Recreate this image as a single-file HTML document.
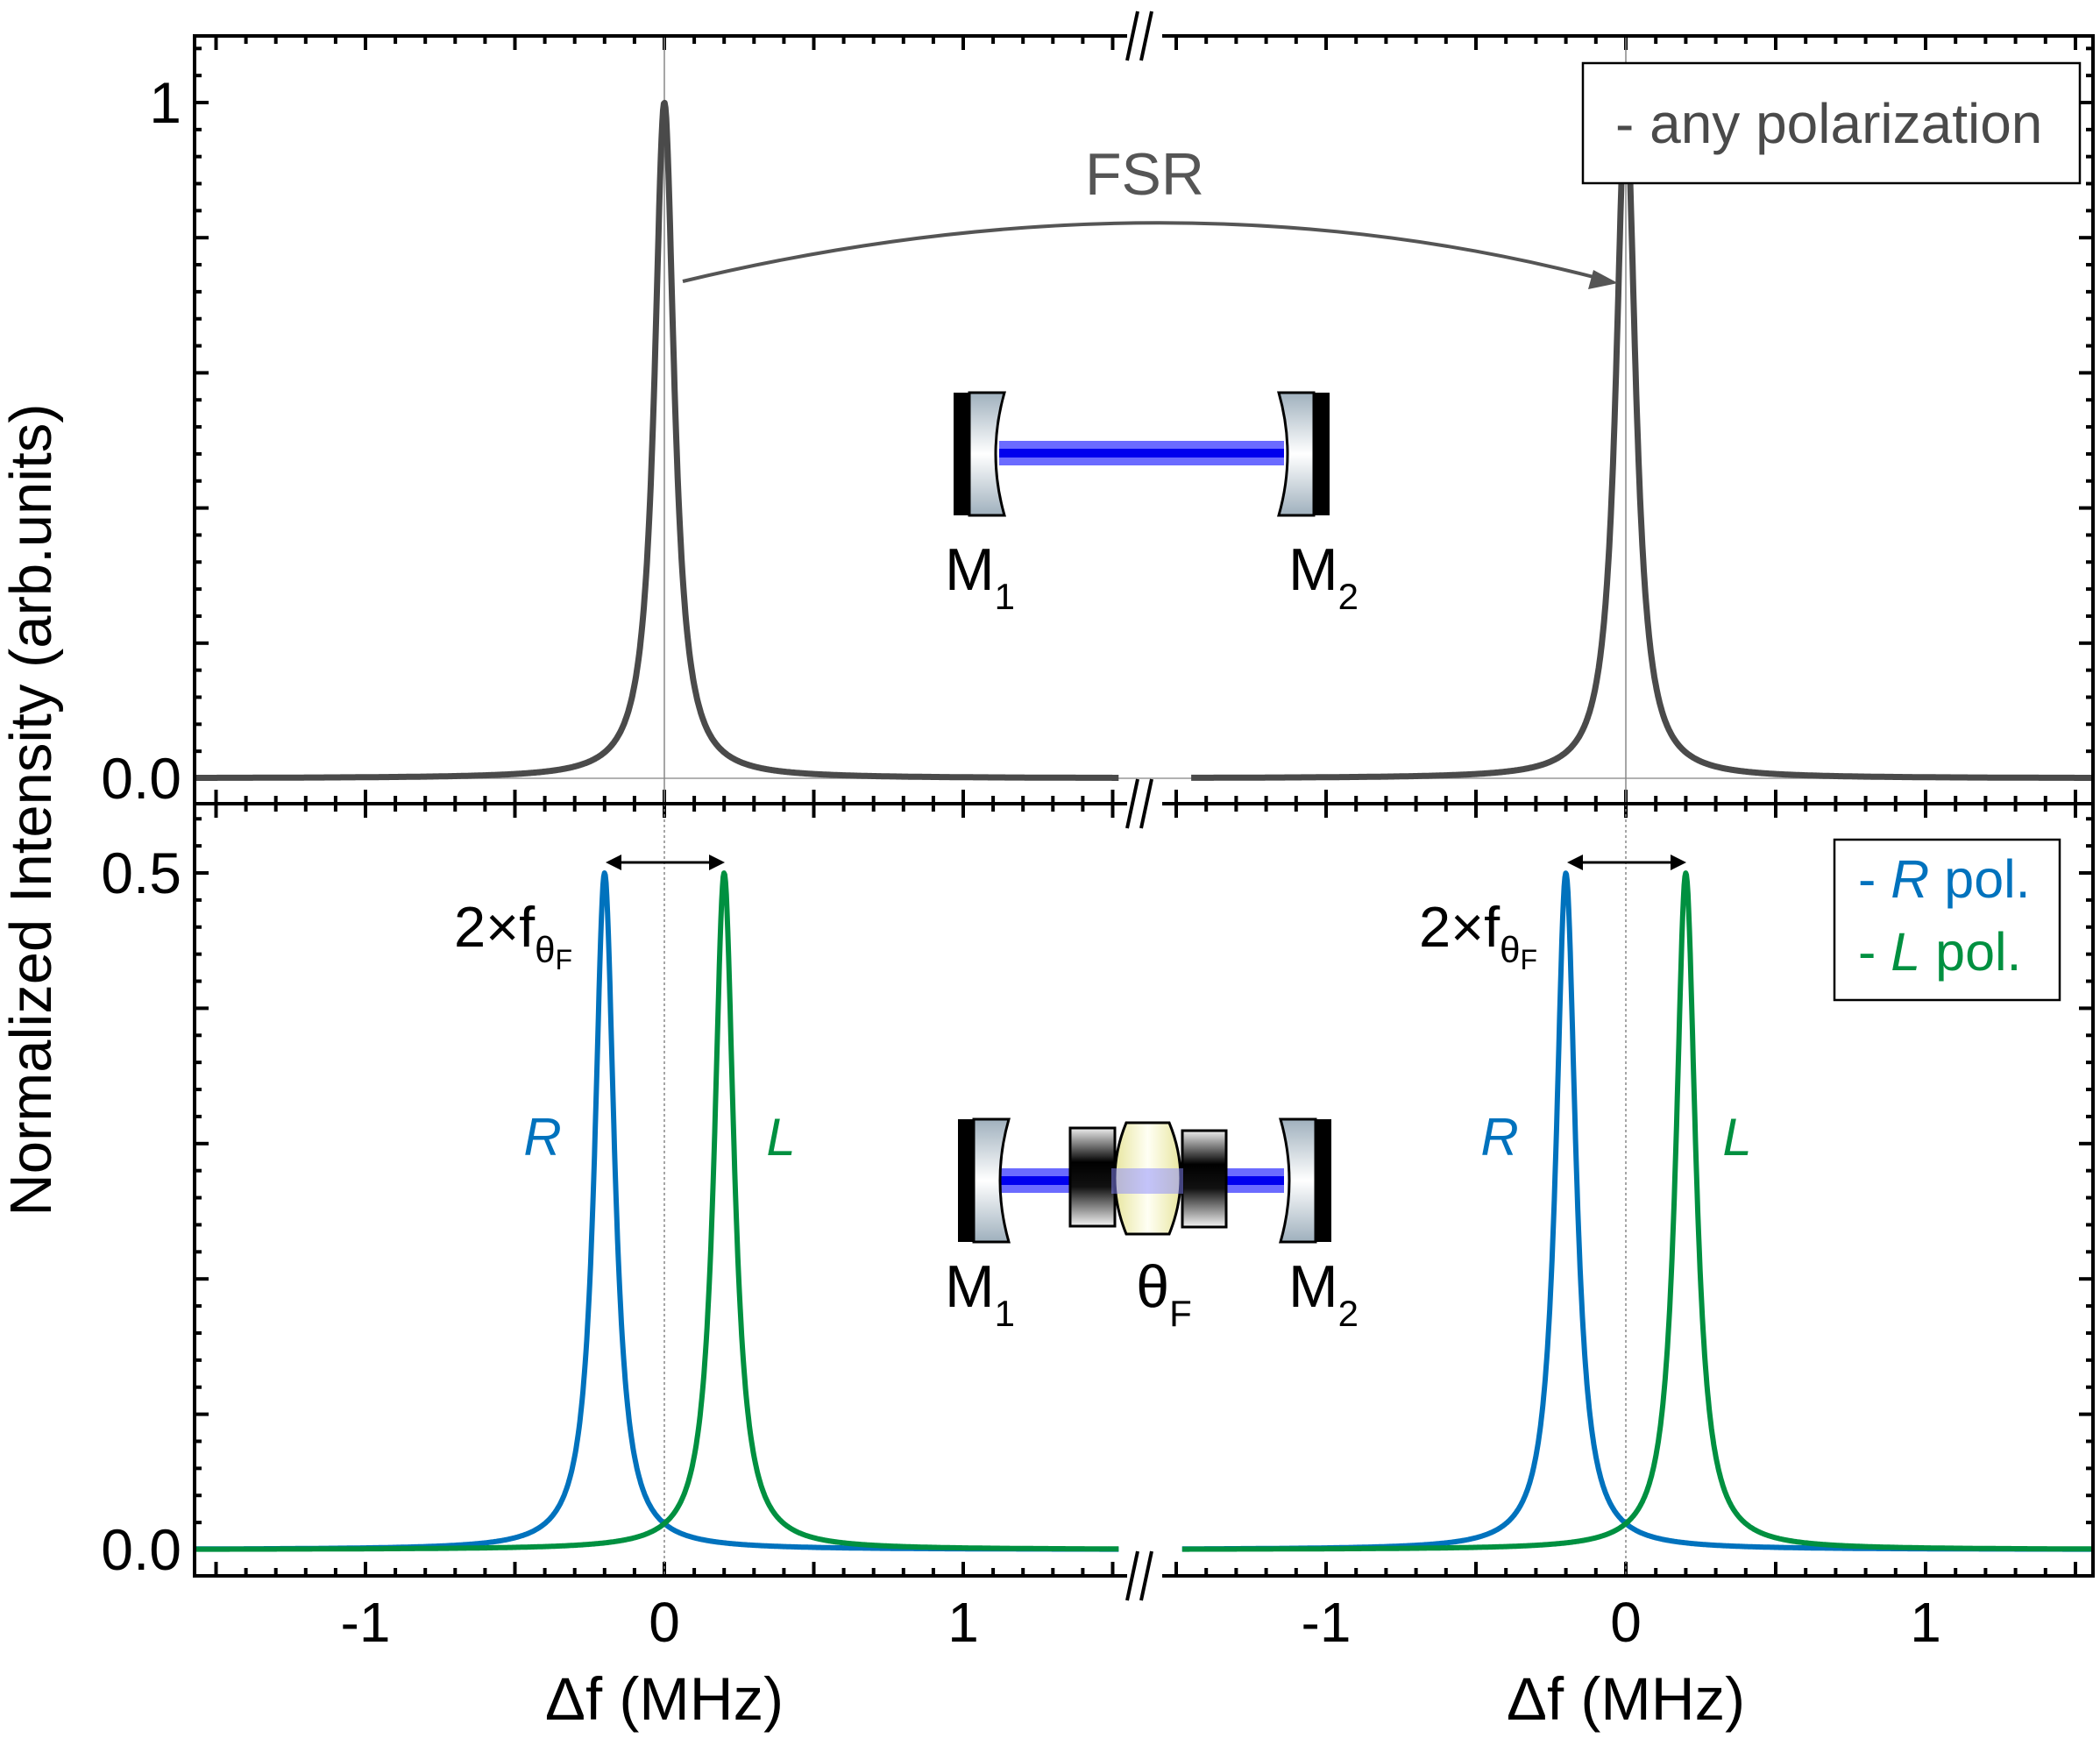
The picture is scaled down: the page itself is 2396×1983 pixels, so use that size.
<!DOCTYPE html>
<html><head><meta charset="utf-8">
<style>
html,body{margin:0;padding:0;background:#fff;}
svg{display:block;font-family:"Liberation Sans",sans-serif;}
</style></head>
<body>
<svg id="chart" width="2396" height="1983" viewBox="0 0 2396 1983" xmlns="http://www.w3.org/2000/svg">
<defs>
<linearGradient id="mirG" x1="0" y1="0" x2="0" y2="1">
<stop offset="0" stop-color="#9fb0bd"/><stop offset="0.5" stop-color="#ffffff"/><stop offset="1" stop-color="#9fb0bd"/></linearGradient>
<linearGradient id="blkG" x1="0" y1="0" x2="0" y2="1">
<stop offset="0" stop-color="#eeeeee"/><stop offset="0.35" stop-color="#000"/><stop offset="0.6" stop-color="#111"/><stop offset="1" stop-color="#f4f4f4"/></linearGradient>
<linearGradient id="lensG" x1="0" y1="0" x2="1" y2="0">
<stop offset="0" stop-color="#e8e6a0"/><stop offset="0.5" stop-color="#fffff4"/><stop offset="1" stop-color="#e8e6a0"/></linearGradient>
</defs>
<g id="plot"></g>
</svg>
<script>
// ---- data ----
const topPeakCenters = [0];
const topPeakAmps = [1.0];
const botRCenters = [-0.2];
const botLCenters = [0.2];
const botAmps = [0.5];
const lineHWHM = [0.04];
const xTickLabels = ["-1","0","1"];
const xTickValues = [-1,0,1];
const topYTickLabels = ["0.0","1"];
const topYTickValues = [0,1];
const botYTickLabels = ["0.0","0.5"];
const botYTickValues = [0,0.5];

const NS="http://www.w3.org/2000/svg";
const root=document.getElementById('plot');
function el(tag,attrs,parent){const e=document.createElementNS(NS,tag);for(const k in attrs)e.setAttribute(k,attrs[k]);(parent||root).appendChild(e);return e;}

const L=222,R=2388,T=41,M=917,B=1798,BRK=1306;
const panels=[{x0:758,s:341,xmin:-1.575,xmax:1.52,cL:L,cR:1276},{x0:1855,s:342,xmin:-1.45,xmax:1.56,cL:1361,cR:R}];
const botPanels=[{x0:758,s:341,xmin:-1.575,xmax:1.52},{x0:1855,s:342,xmin:-1.48,xmax:1.56}];
const yTop=v=>888-v*771;
const yBot=v=>1768-v*1544;
function lor(x,c,a,g){return a/(1+((x-c)/g)**2);}

function tickX(y,dir){
  panels.forEach(p=>{
    for(let i=-15;i<=15;i++){const v=i/10;const x=p.x0+v*p.s;if(x<L+3||x>R-3)continue;if(Math.abs(x-BRK)<25)continue;
      const len=(i%5===0)?16:9;
      const t=el('line',{x1:x,x2:x,y1:y,y2:y+dir*len,stroke:'#000','stroke-width':4});
      }
  });
}
tickX(T,1);tickX(B,-1);tickX(M,-1);tickX(M,1);
function tickY(yf,from,to,minor,major){
  for(let v=0;v<=to+1e-9;v+=minor){const y=yf(v);if(y<from+4)continue;
    const isMaj=Math.abs(v/major-Math.round(v/major))<1e-6;const len=isMaj?16:8;
    el('line',{x1:L,x2:L+len,y1:y,y2:y,stroke:'#000','stroke-width':4,});
    el('line',{x1:R,x2:R-len,y1:y,y2:y,stroke:'#000','stroke-width':4,});}
}
tickY(yTop,T,1.16,0.04,0.2);
tickY(yBot,M,0.57,0.02,0.1);

el('line',{x1:L,x2:R,y1:yTop(0),y2:yTop(0),stroke:'#999','stroke-width':1.5,});
panels.forEach(p=>{
  el('line',{x1:p.x0,x2:p.x0,y1:T,y2:M,stroke:'#888','stroke-width':1.5,});
  el('line',{x1:p.x0,x2:p.x0,y1:M,y2:B,stroke:'#888','stroke-width':1.5,'stroke-dasharray':'3,3',});
});

function curve(p,fn,yf,color,w,name){
  let d='';const N=1200;
  for(let i=0;i<=N;i++){const x=p.xmin+(p.xmax-p.xmin)*i/N;
    d+=(i?'L':'M')+(p.x0+x*p.s).toFixed(1)+' '+yf(fn(x)).toFixed(1);}
  const e=el('path',{d:d,fill:'none',stroke:color,'stroke-width':w,'stroke-linejoin':'round'});
  
}
panels.forEach(p=>{
  curve(p,x=>topPeakCenters.reduce((s,c,k)=>s+lor(x,c,topPeakAmps[k],lineHWHM[0]),0),yTop,'#4a4a4a',7,'any-pol-curve');
});
botPanels.forEach(p=>{
  curve(p,x=>botRCenters.reduce((s,c)=>s+lor(x,c,botAmps[0],lineHWHM[0]),0),yBot,'#0072bd',6,'r-pol-curve');
  curve(p,x=>botLCenters.reduce((s,c)=>s+lor(x,c,botAmps[0],lineHWHM[0]),0),yBot,'#009040',6,'l-pol-curve');
});

el('rect',{x:L,y:T,width:R-L,height:B-T,fill:'none',stroke:'#000','stroke-width':4,});
el('line',{x1:L,x2:R,y1:M,y2:M,stroke:'#000','stroke-width':4,});
[T,M,B].forEach(y=>{
  el('rect',{x:BRK-20,y:y-5,width:40,height:10,fill:'#fff',});
  el('line',{x1:BRK-20,y1:y+28,x2:BRK-8,y2:y-28,stroke:'#000','stroke-width':4,});
  el('line',{x1:BRK-4,y1:y+28,x2:BRK+8,y2:y-28,stroke:'#000','stroke-width':4,});
});

function txt(s,x,y,attrs,name){const t=el('text',Object.assign({x:x,y:y},attrs));t.textContent=s;return t;}
panels.forEach(p=>{xTickValues.forEach((v,i)=>txt(xTickLabels[i],p.x0+v*p.s,1873,{'font-size':64,'text-anchor':'middle'},'x-tick-label'));
  txt('Δf (MHz)',p.x0,1962,{'font-size':69,'text-anchor':'middle'},'x-axis-title');});
topYTickValues.forEach((v,i)=>txt(topYTickLabels[i],207,yTop(v)+23,{'font-size':66,'text-anchor':'end'},'y-tick-label'));
botYTickValues.forEach((v,i)=>txt(botYTickLabels[i],207,yBot(v)+23,{'font-size':66,'text-anchor':'end'},'y-tick-label'));
txt('Normalized Intensity (arb.units)',0,0,{'font-size':67,'text-anchor':'middle',transform:'translate(58,924) rotate(-90)'},'y-axis-title');

el('rect',{x:1806,y:72,width:567,height:137,fill:'#fff',stroke:'#000','stroke-width':2.5,});
txt('- any polarization',1843,163,{'font-size':64,fill:'#4a4a4a'},'legend-entry-any');
el('rect',{x:2093,y:958,width:257,height:183,fill:'#fff',stroke:'#000','stroke-width':2.5,});
const lr=txt('',2120,1024,{'font-size':61,fill:'#0072bd'},'legend-entry-r');lr.innerHTML='- <tspan font-style="italic">R</tspan> pol.';
const ll=txt('',2120,1107,{'font-size':61,fill:'#009040'},'legend-entry-l');ll.innerHTML='- <tspan font-style="italic">L</tspan> pol.';

el('path',{d:'M779 321 Q1330 189 1826 318',fill:'none',stroke:'#555','stroke-width':4,});
el('path',{d:'M1846 323 L1812 330 L1818 308 Z',fill:'#555',});
txt('FSR',1306,222,{'font-size':68,fill:'#555','text-anchor':'middle'},'fsr-label');

[[691,827],[1788,1924]].forEach(a=>{
  el('line',{x1:a[0]+14,x2:a[1]-14,y1:984,y2:984,stroke:'#000','stroke-width':3,});
  el('path',{d:`M${a[0]} 984 l18 -9 l0 18 Z M${a[1]} 984 l-18 -9 l0 18 Z`,fill:'#000',});
});
[[518,1080],[1619,1080]].forEach(p=>{
  const t=txt('',p[0],p[1],{'font-size':65},'splitting-label');
  t.innerHTML='2×f<tspan font-size="42" dy="18">θ</tspan><tspan font-size="32" dy="8">F</tspan>';
});
[[619,1318,'R','#0072bd'],[891,1318,'L','#009040'],[1711,1318,'R','#0072bd'],[1982,1318,'L','#009040']].forEach(p=>{
  txt(p[2],p[0],p[1],{'font-size':60,'font-style':'italic',fill:p[3],'text-anchor':'middle'},'peak-label-'+p[2].toLowerCase());
});

function mirror(xb,y1,y2,left,name){
  const g=el('g',{});
  const h=y2-y1;
  if(left){
    el('rect',{x:xb,y:y1,width:18,height:h,fill:'#000'},g);
    el('path',{d:`M${xb+18} ${y1} L${xb+58} ${y1} Q${xb+38} ${y1+h/2} ${xb+58} ${y2} L${xb+18} ${y2} Z`,fill:'url(#mirG)',stroke:'#000','stroke-width':3},g);
  } else {
    el('rect',{x:xb-18,y:y1,width:18,height:h,fill:'#000'},g);
    el('path',{d:`M${xb-18} ${y1} L${xb-58} ${y1} Q${xb-38} ${y1+h/2} ${xb-58} ${y2} L${xb-18} ${y2} Z`,fill:'url(#mirG)',stroke:'#000','stroke-width':3},g);
  }
}
function beam(x1,x2,y,name){
  el('rect',{x:x1,y:y-14,width:x2-x1,height:28,fill:'#6b6bff',});
  el('rect',{x:x1,y:y-5,width:x2-x1,height:10,fill:'#0000ee',});
}
beam(1140,1465,517,'top-beam');
mirror(1088,448,588,true,'top-mirror-m1');mirror(1517,448,588,false,'top-mirror-m2');
beam(1140,1465,1347,'bottom-beam');
mirror(1093,1277,1417,true,'bottom-mirror-m1');mirror(1519,1277,1417,false,'bottom-mirror-m2');
el('rect',{x:1221,y:1287,width:51,height:112,fill:'url(#blkG)',stroke:'#000','stroke-width':3,});
el('rect',{x:1349,y:1290,width:50,height:110,fill:'url(#blkG)',stroke:'#000','stroke-width':3,});
el('path',{d:'M1285 1281 L1334 1281 Q1360 1344 1334 1408 L1285 1408 Q1259 1344 1285 1281 Z',fill:'url(#lensG)',stroke:'#000','stroke-width':3,});
el('rect',{x:1268,y:1333,width:82,height:29,fill:'#8888ff',opacity:0.5,});
function mlabel(main,sub,x,y,name){const t=txt('',x,y,{'font-size':68,'text-anchor':'middle'},name);t.innerHTML=main+'<tspan font-size="42" dy="22">'+sub+'</tspan>';}
mlabel('M','1',1118,673,'m1-label');mlabel('M','2',1510,673,'m2-label');
mlabel('M','1',1118,1491,'m1-label');mlabel('θ','F',1328,1491,'theta-f-label');mlabel('M','2',1510,1491,'m2-label');
</script>
</body></html>
